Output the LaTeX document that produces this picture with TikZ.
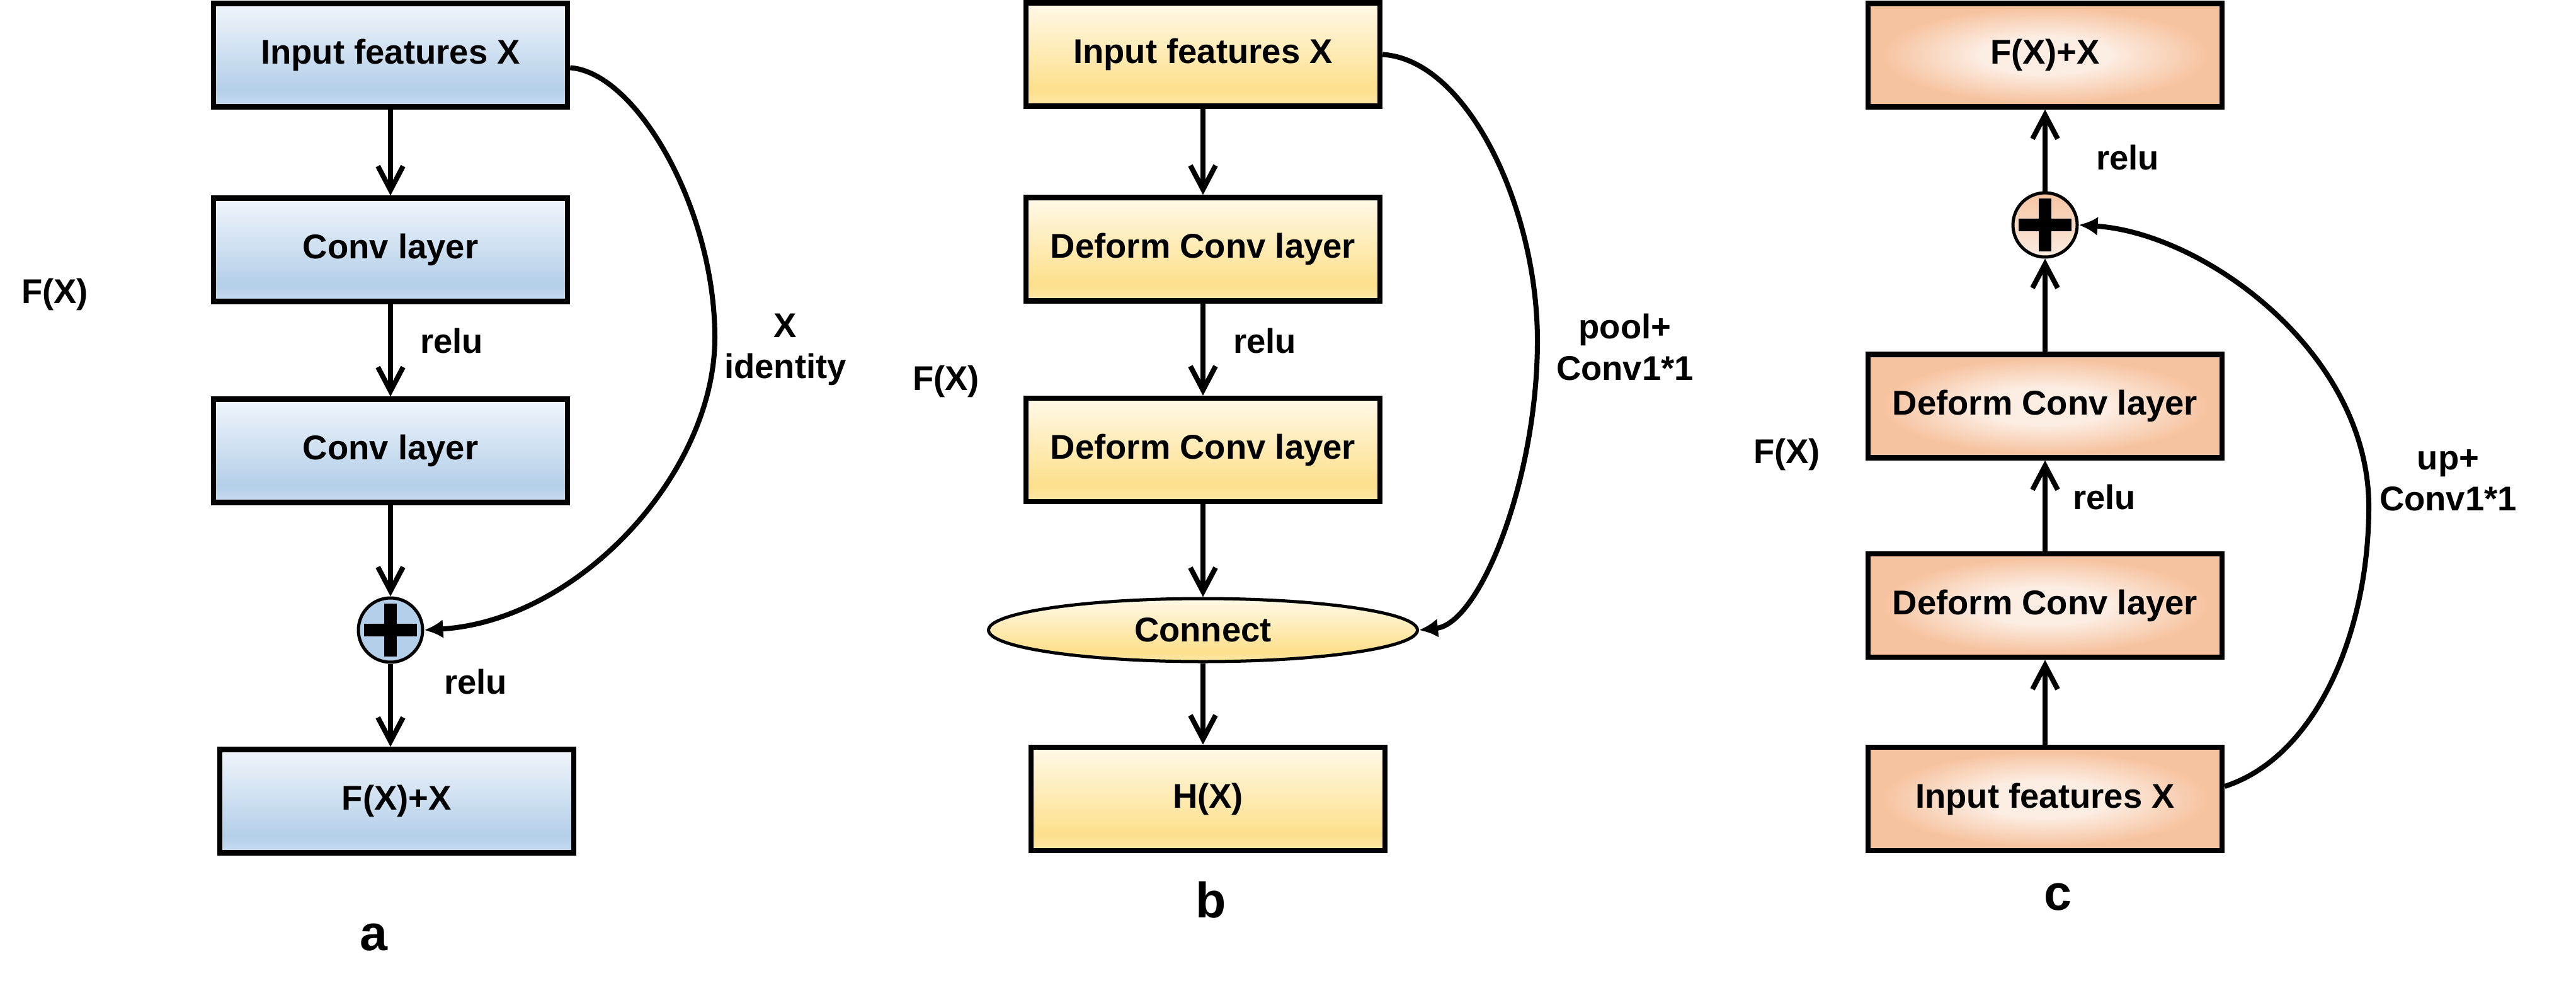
\documentclass[tikz,border=0pt]{standalone}
\usepackage{fontspec}
\setmainfont{Liberation Sans}
\usetikzlibrary{arrows.meta,shapes.geometric}

\definecolor{bluetop}{HTML}{F0F5FB}
\definecolor{bluedeep}{HTML}{B4CFE9}
\definecolor{bluebot}{HTML}{C8DCF0}
\definecolor{yeltop}{HTML}{FFF9E8}
\definecolor{yeldeep}{HTML}{FDE08C}
\definecolor{yelbot}{HTML}{FEE8A8}
\definecolor{orlight}{HTML}{FCEDE3}
\definecolor{ormain}{HTML}{F6C3A0}

\pgfdeclareverticalshading{blueshade}{100bp}{color(0bp)=(bluebot); color(25bp)=(bluebot); color(33bp)=(bluedeep); color(75bp)=(bluetop); color(100bp)=(bluetop)}
\pgfdeclareverticalshading{yelshade}{100bp}{color(0bp)=(yelbot); color(25bp)=(yelbot); color(33bp)=(yeldeep); color(75bp)=(yeltop); color(100bp)=(yeltop)}
\pgfdeclareradialshading{orshade}{\pgfpoint{0bp}{0bp}}{color(0bp)=(orlight); color(9bp)=(orlight); color(23bp)=(ormain); color(50bp)=(ormain)}
\pgfdeclareverticalshading{orcircle}{100bp}{color(0bp)=(orlight); color(25bp)=(orlight); color(75bp)=(ormain); color(100bp)=(ormain)}

\tikzset{
  lbl/.style={font=\bfseries\fontsize{15.5}{18.6}\selectfont},
  layer/.style={draw, line width=0.085cm, minimum width=5.62cm, minimum height=1.64cm, shade, lbl},
  layera/.style={layer, shading=blueshade},
  layerb/.style={layer, shading=yelshade},
  layerc/.style={layer, shading=orshade},
  addnode/.style={circle, draw, line width=0.05cm, minimum size=1.02cm, inner sep=0pt,
    path picture={
      \fill[black] (path picture bounding box.center) ++(-0.42,-0.1) rectangle ++(0.84,0.2);
      \fill[black] (path picture bounding box.center) ++(-0.1,-0.42) rectangle ++(0.2,0.84);}},
  flow/.style={line width=0.08cm, -{Straight Barb[length=0.38cm,width=0.4cm]}},
  skip/.style={line width=0.08cm, -{Latex[length=0.3cm,width=0.3cm]}},
  panel/.style={font=\bfseries\fontsize{22.5}{27}\selectfont, anchor=base},
}

\begin{document}
\begin{tikzpicture}
  \useasboundingbox (0,0) rectangle (40.9,-15.76);

  % Panel a: residual block
  \node[layera] (ina) at (6.2,-0.875) {Input features X};
  \node[layera] (conva1) at (6.2,-3.965) {Conv layer};
  \node[layera] (conva2) at (6.2,-7.155) {Conv layer};
  \node[addnode, fill=bluedeep] (adda) at (6.2,-10.0) {};
  \node[layera] (outa) at (6.3,-12.715) {F(X)+X};

  \node[lbl] (relua1) at (7.17,-5.41) {relu};
  \node[lbl, align=center] (ida) at (12.47,-5.55) {X\\identity};
  \node[lbl] (relua2) at (7.55,-10.82) {relu};
  \node[lbl] (fxa) at (0.87,-4.67) {F(X)};
  \node[panel] (capa) at (5.93,-15.08) {a};

  \draw[flow] (ina) -- (conva1);
  \draw[flow] (conva1) -- (conva2);
  \draw[flow] (conva2) -- (adda);
  \draw[flow] (adda) -- (adda |- outa.north);
  \draw[skip] (ina.-4.5) .. controls (10.10,-1.15) and (11.35,-3.30) .. (11.35,-5.36)
    .. controls (11.35,-7.50) and (9.20,-9.85) .. (adda.east);

  % Panel b: deformable block with pooling
  \node[layerb] (inb) at (19.1,-0.865) {Input features X};
  \node[layerb] (defb1) at (19.1,-3.955) {Deform Conv layer};
  \node[layerb] (defb2) at (19.1,-7.14) {Deform Conv layer};
  \node[ellipse, draw, line width=0.05cm, shade, shading=yelshade, minimum width=6.81cm, minimum height=1.0cm, lbl] (conn) at (19.1,-10.0) {Connect};
  \node[layerb] (outb) at (19.18,-12.68) {H(X)};

  \node[lbl] (relub) at (20.08,-5.41) {relu};
  \node[lbl, align=center] (poolb) at (25.8,-5.51) {pool+\\Conv1*1};
  \node[lbl] (fxb) at (15.02,-6.05) {F(X)};
  \node[panel] (capb) at (19.23,-14.56) {b};

  \draw[flow] (inb) -- (defb1);
  \draw[flow] (defb1) -- (defb2);
  \draw[flow] (defb2) -- (conn);
  \draw[flow] (conn) -- (conn |- outb.north);
  \draw[skip] (inb.east) .. controls (23.30,-0.95) and (24.41,-3.30) .. (24.41,-5.41)
    .. controls (24.41,-7.60) and (23.50,-9.90) .. (conn.east);

  % Panel c: deformable block with upsampling
  \node[layerc] (topc) at (32.47,-0.875) {F(X)+X};
  \node[addnode, shade, shading=orcircle] (addc) at (32.47,-3.57) {};
  \node[layerc] (defc2) at (32.47,-6.445) {Deform Conv layer};
  \node[layerc] (defc1) at (32.47,-9.61) {Deform Conv layer};
  \node[layerc] (inc) at (32.47,-12.68) {Input features X};

  \node[lbl] (reluc1) at (33.78,-2.50) {relu};
  \node[lbl] (reluc2) at (33.41,-7.89) {relu};
  \node[lbl, align=center] (upc) at (38.87,-7.62) {up+\\Conv1*1};
  \node[lbl] (fxc) at (28.37,-7.21) {F(X)};
  \node[panel] (capc) at (32.67,-14.44) {c};

  \draw[flow] (inc) -- (defc1);
  \draw[flow] (defc1) -- (defc2);
  \draw[flow] (defc2) -- (addc);
  \draw[flow] (addc) -- (topc);
  \draw[skip] (inc.4) .. controls (36.80,-12.00) and (37.61,-10.00) .. (37.61,-8.04)
    .. controls (37.61,-5.60) and (35.00,-3.70) .. (addc.east);
\end{tikzpicture}
\end{document}
